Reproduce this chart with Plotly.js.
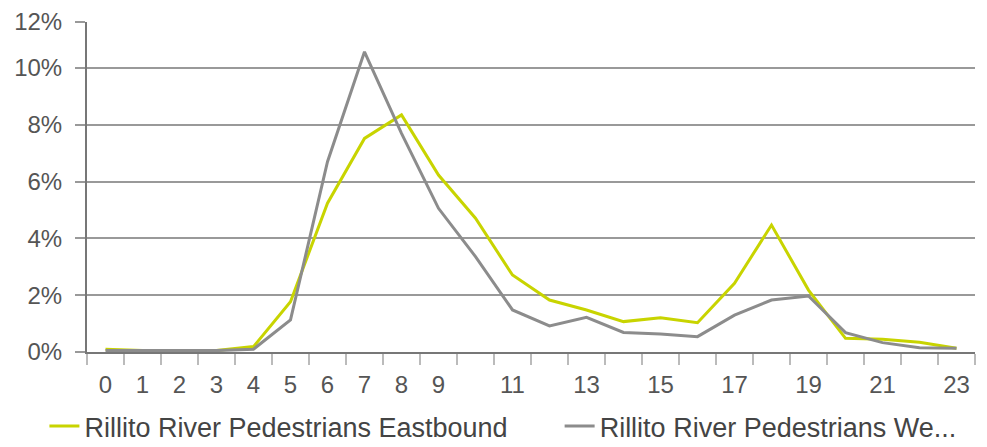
<!DOCTYPE html>
<html><head><meta charset="utf-8">
<script src="https://cdn.plot.ly/plotly-3.0.1.min.js"></script>
<style>html,body{margin:0;padding:0;background:#fff}#chart{width:987px;height:447px}</style>
</head><body><div id="chart"></div>
<script>
const hours = [0,1,2,3,4,5,6,7,8,9,10,11,12,13,14,15,16,17,18,19,20,21,22,23];
const eastbound = [0.10,0.05,0.05,0.05,0.19,1.77,5.24,7.52,8.35,6.23,4.71,2.71,1.83,1.48,1.07,1.21,1.03,2.42,4.47,2.18,0.48,0.45,0.34,0.13];
const westbound = [0.05,0.05,0.05,0.05,0.10,1.13,6.70,10.57,7.70,5.06,3.36,1.48,0.92,1.22,0.69,0.63,0.54,1.30,1.83,1.97,0.68,0.33,0.15,0.13];
const xTickVals = [0,1,2,3,4,5,6,7,8,9,11,13,15,17,19,21,23];
const yTickVals = [0,2,4,6,8,10,11.62];
const yTickText = ['0%','2%','4%','6%','8%','10%','12%'];
const seriesNames = ['Rillito River Pedestrians Eastbound','Rillito River Pedestrians We...'];

const FONT = 'Liberation Sans, Arial, sans-serif';
const traces = [
  {x: hours, y: eastbound, name: seriesNames[0], type: 'scatter', mode: 'lines',
   line: {color: '#c8d400', width: 3}, legend: 'legend'},
  {x: hours, y: westbound, name: seriesNames[1], type: 'scatter', mode: 'lines',
   line: {color: '#8c8c8c', width: 3}, legend: 'legend2'}
];
const legFont = {family: FONT, size: 27, color: '#444'};
const layout = {
  width: 987, height: 447,
  margin: {l: 87, r: 12, t: 22, b: 95},
  paper_bgcolor: '#fff', plot_bgcolor: '#fff',
  font: {family: FONT, size: 23, color: '#555'},
  showlegend: true,
  legend: {orientation: 'h', xref: 'container', x: 0.045, xanchor: 'left',
           yref: 'container', y: 0.046, yanchor: 'middle', font: legFont},
  legend2: {orientation: 'h', xref: 'container', x: 0.567, xanchor: 'left',
            yref: 'container', y: 0.046, yanchor: 'middle', font: legFont},
  xaxis: {range: [-0.5, 23.5], tickmode: 'array', tickvals: xTickVals, ticks: '',
          ticklabelstandoff: 10,
          showgrid: false, zeroline: false, showline: true, linecolor: '#777', linewidth: 2,
          tickfont: {family: FONT, size: 24, color: '#555'},
          minor: {tickmode: 'linear', tick0: -0.5, dtick: 1, ticks: 'outside', ticklen: 11,
                  tickcolor: '#bbb', tickwidth: 2, showgrid: false}},
  xaxis2: {overlaying: 'x', range: [-0.5, 23.5], tickmode: 'linear', tick0: -0.5, dtick: 1,
           ticks: 'inside', ticklen: 9, tickcolor: '#bbb', tickwidth: 2, showticklabels: false,
           showgrid: false, zeroline: false, anchor: 'y', side: 'bottom', showline: false},
  yaxis: {range: [0, 11.62], tickmode: 'array', tickvals: yTickVals, ticktext: yTickText,
          ticks: 'outside', ticklen: 10, tickcolor: '#999', tickwidth: 2,
          ticklabelstandoff: 8,
          showgrid: true, gridcolor: '#999', gridwidth: 2, zeroline: false,
          showline: true, linecolor: '#777', linewidth: 2,
          tickfont: {family: FONT, size: 24, color: '#555'}}
};
Plotly.newPlot('chart', traces, layout, {displayModeBar: false, staticPlot: true});
</script></body></html>
